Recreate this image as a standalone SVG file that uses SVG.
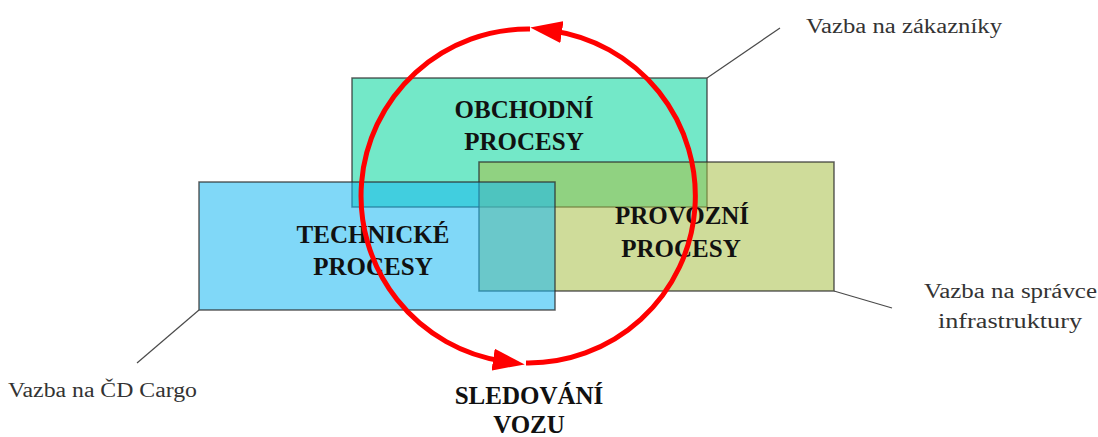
<svg xmlns="http://www.w3.org/2000/svg" width="1098" height="437" viewBox="0 0 1098 437">
  <style>
    .box { stroke: #2b2b2b; stroke-opacity: 0.75; stroke-width: 1.5; fill-opacity: 0.55; }
    .title { font-family: "Liberation Serif", "Times New Roman", serif; font-weight: bold; font-size: 25px; fill: #111; text-anchor: middle; }
    .note { font-family: "Liberation Serif", "Times New Roman", serif; font-size: 20px; fill: #333; }
    .leader { stroke: #4a4a4a; stroke-width: 1.2; fill: none; }
    .cycle { stroke: #ff0000; stroke-width: 5; fill: none; }
  </style>
  <defs>
    <marker id="redHead" markerUnits="userSpaceOnUse" markerWidth="32" markerHeight="22" viewBox="0 0 32 22" refX="10" refY="11" orient="auto">
      <path d="M0,0 L32,11 L0,22 z" fill="#ff0000"/>
    </marker>
  </defs>

  <rect width="1098" height="437" fill="#ffffff"/>

  <!-- business processes -->
  <g id="node-obchodni">
    <rect class="box" x="352" y="78" width="355" height="129" fill="#00d59b"/>
    <text class="title" x="524" y="118">OBCHODNÍ</text>
    <text class="title" x="524" y="150">PROCESY</text>
  </g>

  <!-- operational processes -->
  <g id="node-provozni">
    <rect class="box" x="479" y="162" width="355" height="129" fill="#a8bf47"/>
    <text class="title" x="682" y="224">PROVOZNÍ</text>
    <text class="title" x="681" y="257">PROCESY</text>
  </g>

  <!-- technical processes -->
  <g id="node-technicke">
    <rect class="box" x="199" y="182" width="356" height="128" fill="#18b8f2"/>
    <text class="title" x="373" y="243">TECHNICKÉ</text>
    <text class="title" x="373" y="275">PROCESY</text>
  </g>

  <!-- wagon tracking cycle -->
  <g id="node-sledovani">
    <path class="cycle" d="M526,363 A167,167 0 0 0 552,30.7" marker-end="url(#redHead)"/>
    <path class="cycle" d="M530,29 A167,167 0 0 0 503,361.1" marker-end="url(#redHead)"/>
    <text class="title" x="529" y="404">SLEDOVÁNÍ</text>
    <text class="title" x="529" y="433">VOZU</text>
  </g>

  <!-- leader lines to the external relations -->
  <g id="connectors">
    <line class="leader" x1="707" y1="78" x2="780" y2="28"/>
    <line class="leader" x1="834" y1="291" x2="892" y2="308"/>
    <line class="leader" x1="199" y1="310" x2="137" y2="363"/>
  </g>

  <g id="relations">
    <text class="note" x="806" y="33" textLength="196" lengthAdjust="spacingAndGlyphs">Vazba na zákazníky</text>
    <text class="note" x="924" y="298" textLength="173" lengthAdjust="spacingAndGlyphs">Vazba na správce</text>
    <text class="note" x="938" y="328" textLength="144" lengthAdjust="spacingAndGlyphs">infrastruktury</text>
    <text class="note" x="8" y="397" textLength="189" lengthAdjust="spacingAndGlyphs">Vazba na ČD Cargo</text>
  </g>
</svg>
